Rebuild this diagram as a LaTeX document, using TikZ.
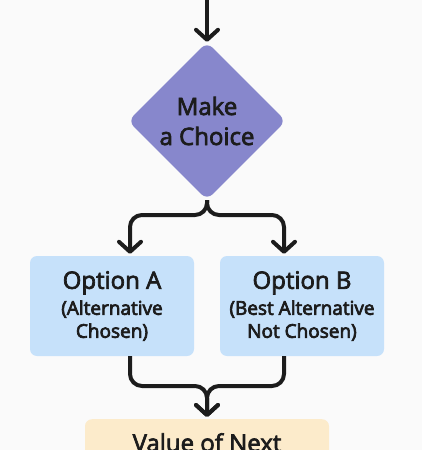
\documentclass[tikz,border=0pt]{standalone}
\usepackage{fontspec}
\setmainfont{Open Sans}
\newcommand\heavyink{\special{pdf:literal direct 2 Tr 0.7 w}}
\usetikzlibrary{calc}
\usetikzlibrary{shapes.geometric}
\usetikzlibrary{arrows.meta}
\definecolor{choicefill}{HTML}{8787CC}
\definecolor{optfill}{HTML}{C6E1FA}
\definecolor{valuefill}{HTML}{FCEBCB}
\definecolor{ink}{HTML}{1C1C1C}
\definecolor{paper}{HTML}{FAFAFA}

\begin{document}
\begin{tikzpicture}[x=1pt, y=-1pt,
    flow/.style={ink, line width=4pt, rounded corners=12pt, shorten >=2pt, -{Straight Barb[length=10pt,width=22pt,round]}},
    optbox/.style={fill=optfill, rounded corners=7pt, minimum width=164pt, minimum height=100pt, inner sep=0pt, align=center, text=ink, font=\heavyink\fontsize{19}{23}\selectfont}]
\fill[paper] (0, 0) rectangle (422, 450);
\clip (0, 0) rectangle (422, 450);
\node[diamond, fill=choicefill, rounded corners=8pt, minimum width=158pt, minimum height=158pt, inner sep=0pt, align=center, text=ink, font=\heavyink\fontsize{24}{30}\selectfont] (choice) at (207, 121) {Make\\a Choice};
\node[optbox] (optA) at (112, 306) {\fontsize{24}{27}\selectfont Option A\\[3pt](Alternative\\Chosen)};
\node[optbox] (optB) at (302, 306) {\fontsize{24}{27}\selectfont Option B\\[3pt](Best Alternative\\Not Chosen)};
\node[fill=valuefill, rounded corners=7pt, minimum width=244pt, inner ysep=14pt, text depth=40pt, anchor=north, text=ink, font=\heavyink\fontsize{24}{30}\selectfont] (value) at (207, 419) {Value of Next};
\coordinate (start) at (207, -10);
\coordinate (split) at (207, 215);
\coordinate (merge) at (207, 386);
\draw[flow, shorten >=0pt] (start) -- (choice.north);
\draw[flow] (choice.south) -- (split) -| ([xshift=18pt]optA.north);
\draw[flow] (choice.south) -- (split) -| ([xshift=-18pt]optB.north);
\draw[flow] ([xshift=18pt]optA.south) |- (merge) -- (value.north);
\draw[flow] ([xshift=-18pt]optB.south) |- (merge) -- (value.north);
\end{tikzpicture}
\end{document}
